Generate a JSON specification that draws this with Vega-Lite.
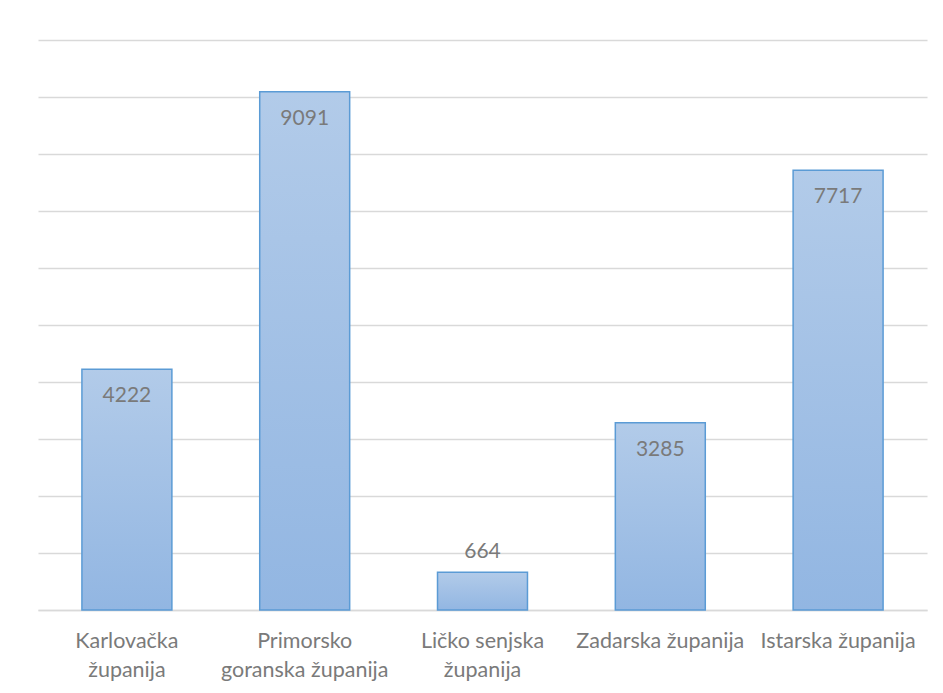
{
  "$schema": "https://vega.github.io/schema/vega-lite/v6.json",
  "autosize": "none",
  "width": 889,
  "height": 570,
  "padding": {"left": 38, "top": 40, "right": 16, "bottom": 83},
  "background": "white",
  "config": {
    "view": {"stroke": null},
    "font": "Lato"
  },
  "data": {
    "values": [
      {"zupanija": "Karlovačka županija", "broj": 4222},
      {"zupanija": "Primorsko goranska županija", "broj": 9091},
      {"zupanija": "Ličko senjska županija", "broj": 664},
      {"zupanija": "Zadarska županija", "broj": 3285},
      {"zupanija": "Istarska županija", "broj": 7717}
    ]
  },
  "encoding": {
    "x": {
      "field": "zupanija",
      "type": "nominal",
      "sort": null,
      "scale": {"paddingInner": 0.494, "paddingOuter": 0.247},
      "axis": {
        "title": null,
        "labelAngle": 0,
        "labelFont": "Lato",
        "labelFontSize": 21.5,
        "labelColor": "#7a7a7a",
        "labelPadding": 31,
        "labelLineHeight": 29,
        "labelBaseline": "middle",
        "labelLimit": 300,
        "ticks": false,
        "domain": true,
        "domainColor": "#d9d9d9",
        "domainWidth": 1.5,
        "labelExpr": "datum.value == 'Karlovačka županija' ? ['Karlovačka', 'županija'] : datum.value == 'Primorsko goranska županija' ? ['Primorsko', 'goranska županija'] : datum.value == 'Ličko senjska županija' ? ['Ličko senjska', 'županija'] : datum.value"
      }
    },
    "y": {
      "field": "broj",
      "type": "quantitative",
      "scale": {"domain": [0, 10000], "nice": false},
      "axis": {
        "title": null,
        "labels": false,
        "ticks": false,
        "domain": false,
        "values": [0, 1000, 2000, 3000, 4000, 5000, 6000, 7000, 8000, 9000, 10000],
        "gridColor": "#d9d9d9",
        "gridWidth": 1.5
      }
    }
  },
  "layer": [
    {
      "mark": {
        "type": "bar",
        "stroke": "#5b9bd5",
        "strokeWidth": 1.5,
        "color": {
          "gradient": "linear",
          "x1": 0, "y1": 0, "x2": 0, "y2": 1,
          "stops": [
            {"offset": 0, "color": "#b2cbe9"},
            {"offset": 1, "color": "#92b6e2"}
          ]
        }
      }
    },
    {
      "transform": [{"filter": "datum.broj >= 1000"}],
      "mark": {"type": "text", "baseline": "middle", "dy": 27, "fontSize": 21, "color": "#7a7a7a", "font": "Lato"},
      "encoding": {"text": {"field": "broj", "type": "quantitative", "format": "d"}}
    },
    {
      "transform": [{"filter": "datum.broj < 1000"}],
      "mark": {"type": "text", "baseline": "middle", "dy": -20, "fontSize": 21, "color": "#7a7a7a", "font": "Lato"},
      "encoding": {"text": {"field": "broj", "type": "quantitative", "format": "d"}}
    }
  ]
}
